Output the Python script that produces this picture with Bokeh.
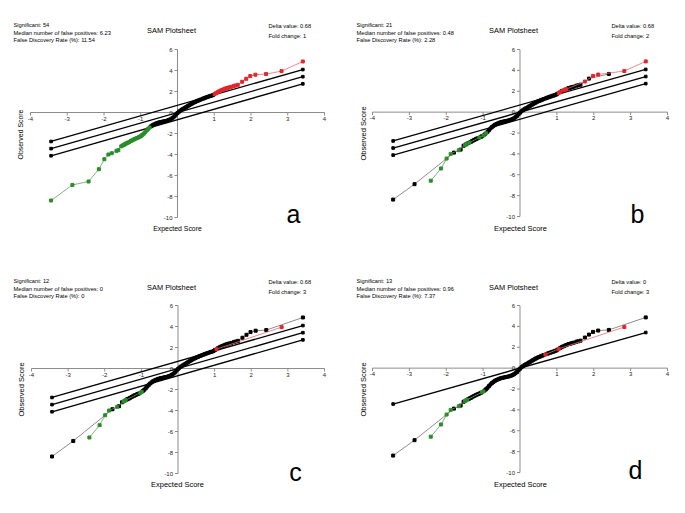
from bokeh.plotting import figure
from bokeh.layouts import gridplot
from bokeh.models import Range1d, Label, ColumnDataSource
from bokeh.core.properties import value
from bokeh.embed import file_html
from bokeh.resources import INLINE

# ---------------- data ----------------
expected = [-3.44, -2.86, -2.42, -2.14, -1.99, -1.88, -1.79, -1.66, -1.61,
            -1.53, -1.49, -1.46, -1.43, -1.40, -1.37, -1.34, -1.31, -1.27, -1.24,
            -1.20, -1.17, -1.13, -1.10, -1.06, -1.03, -0.99, -0.96, -0.92, -0.88,
            -0.84, -0.80, -0.76,
            -0.72, -0.68, -0.64, -0.60, -0.56, -0.52, -0.48, -0.44, -0.40, -0.36,
            -0.32, -0.28, -0.24, -0.20, -0.16, -0.12, -0.08, -0.04, 0.00, 0.04,
            0.08, 0.12, 0.16, 0.20, 0.24, 0.28, 0.32, 0.36, 0.40, 0.44, 0.48,
            0.52, 0.56, 0.60, 0.64, 0.69, 0.73, 0.77, 0.81, 0.85, 0.89, 0.93, 0.97,
            1.01, 1.05, 1.09, 1.13, 1.17, 1.21, 1.25, 1.29, 1.33, 1.37, 1.41, 1.46,
            1.53, 1.58, 1.64, 1.76, 1.87, 1.98, 2.12, 2.41, 2.83, 3.41]
observed = [-8.38, -6.90, -6.57, -5.40, -4.45, -4.00, -3.88, -3.65, -3.59,
            -3.22, -3.14, -3.08, -3.02, -2.96, -2.91, -2.86, -2.80, -2.72, -2.66,
            -2.59, -2.54, -2.48, -2.43, -2.37, -2.31, -2.23, -2.14, -2.02, -1.88,
            -1.72, -1.56, -1.43,
            -1.32, -1.22, -1.14, -1.08, -1.02, -0.97, -0.93, -0.90, -0.87, -0.84,
            -0.81, -0.77, -0.72, -0.66, -0.58, -0.48, -0.36, -0.20, -0.05, 0.08,
            0.18, 0.28, 0.36, 0.44, 0.53, 0.61, 0.70, 0.78, 0.86, 0.94, 1.01,
            1.07, 1.13, 1.19, 1.25, 1.31, 1.37, 1.42, 1.47, 1.52, 1.57, 1.61, 1.66,
            1.76, 1.84, 1.93, 2.01, 2.08, 2.14, 2.20, 2.26, 2.31, 2.35, 2.39, 2.44,
            2.53, 2.57, 2.63, 2.93, 3.21, 3.47, 3.60, 3.66, 3.94, 4.86]

# significant genes of each panel, given by expected score
up_a = [1.01, 1.05, 1.09, 1.13, 1.17, 1.21, 1.25, 1.29, 1.33, 1.37, 1.41, 1.46,
        1.53, 1.58, 1.64, 1.76, 1.87, 1.98, 2.12, 2.41, 2.83, 3.41]
down_a = [-3.44, -2.86, -2.42, -2.14, -1.99, -1.88, -1.79, -1.66, -1.61,
          -1.53, -1.49, -1.46, -1.43, -1.40, -1.37, -1.34, -1.31, -1.27, -1.24,
          -1.20, -1.17, -1.13, -1.10, -1.06, -1.03, -0.99, -0.96, -0.92, -0.88,
          -0.84, -0.80, -0.76]
up_b = [1.05, 1.09, 1.17, 1.21, 1.25, 1.76, 1.98, 2.12, 2.83, 3.41]
down_b = [-2.42, -2.14, -1.99, -1.88, -1.66, -1.49, -1.43, -1.37, -1.10, -0.99, -0.92]
up_c = [1.05, 2.83]
down_c = [-2.42, -2.14, -1.99, -1.88, -1.66, -1.49, -1.46, -1.43, -1.03, -0.99]
up_d = [0.69, 1.05, 2.83]
down_d = [-2.42, -2.14, -1.99, -1.88, -1.66, -1.49, -1.46, -1.43, -1.03, -0.99]

significant = [54, 21, 12, 13]
false_pos = ["6.23", "0.48", "0", "0.96"]
fdr = ["11.54", "2.28", "0", "7.37"]
delta = [0.68, 0.68, 0.68, 0.0]
delta_txt = ["0.68", "0.68", "0.68", "0"]
fold = [1, 2, 3, 3]
letters = ["a", "b", "c", "d"]
ups = [up_a, up_b, up_c, up_d]
downs = [down_a, down_b, down_c, down_d]

x_ticks = [-4, -3, -2, -1, 0, 1, 2, 3, 4]
x_tick_labels = ["-4", "-3", "-2", "-1", "", "1", "2", "3", "4"]
y_ticks = [6, 4, 2, 0, -2, -4, -6, -8, -10]
y_tick_labels = ["6", "4", "2", "0", "-2", "-4", "-6", "-8", "-10"]

# ---------------- layout ----------------
FONT = "Liberation Sans"
RED = "#e3262c"
GREEN = "#2b8c2b"
AXIS = "#8c8c8c"
SMALL = "5.7px"

# figure size, where the axis box sits (pixels from each edge), text positions
layouts = [
    dict(W=342, H=256, l=30, r=18, t=49, b=39, info_x=13, info_y=24, title=(171, 30),
         dv=(268, 25), xl=(177, 228), yl=(20, 134), let=(293, 213), ysz="6.9px"),
    dict(W=343, H=256, l=30, r=18, t=49, b=40, info_x=14, info_y=24, title=(171, 30),
         dv=(269, 25), xl=(178, 228), yl=(21, 133), let=(295, 213), ysz="7.5px"),
    dict(W=342, H=257, l=31, r=18, t=49, b=40, info_x=13, info_y=24, title=(171, 31),
         dv=(268, 25), xl=(177, 228), yl=(21, 133), let=(295, 215), ysz="7.5px"),
    dict(W=343, H=257, l=30, r=18, t=49, b=41, info_x=14, info_y=24, title=(171, 31),
         dv=(269, 25), xl=(178, 228), yl=(21, 133), let=(293, 213), ysz="7.5px"),
]


def put(p, L, fx, fy, text, size, align="left", angle=0.0, color="black"):
    p.add_layout(Label(x=fx, y=L["H"] - fy, x_units="screen", y_units="screen",
                       text=text, text_align=align, text_baseline="middle",
                       text_font=FONT, text_font_size=size, text_color=color, angle=angle))


def make_panel(i):
    L = layouts[i]
    x0, x1 = min(x_ticks), max(x_ticks)
    y0, y1 = min(y_ticks), max(y_ticks)
    sx = (L["W"] - L["l"] - L["r"]) / (x1 - x0)
    sy = (L["H"] - L["t"] - L["b"]) / (y1 - y0)
    xr = Range1d(x0 - L["l"] / sx, x1 + L["r"] / sx)
    yr = Range1d(y0 - L["b"] / sy, y1 + L["t"] / sy)
    p = figure(width=L["W"], height=L["H"], x_range=xr, y_range=yr,
               output_backend="svg", toolbar_location=None,
               x_axis_location=None, y_axis_location=None,
               min_border_left=0, min_border_right=0, min_border_top=0, min_border_bottom=0)
    p.outline_line_color = None
    p.grid.visible = False
    p.background_fill_color = "white"
    p.border_fill_color = "white"

    # axes crossing at the origin
    tk = 3.0
    p.segment(x0=[x0, 0], y0=[0, y0], x1=[x1, 0], y1=[0, y1], line_color=AXIS, line_width=1)
    p.segment(x0=x_ticks, y0=[0] * len(x_ticks), x1=x_ticks, y1=[-tk / sy] * len(x_ticks),
              line_color=AXIS, line_width=1)
    p.segment(x0=[0] * len(y_ticks), y0=y_ticks, x1=[-tk / sx] * len(y_ticks), y1=y_ticks,
              line_color=AXIS, line_width=1)
    p.text(x=x_ticks, y=[0] * len(x_ticks), text=x_tick_labels, text_align="center",
           text_baseline="top", y_offset=4, text_font=value(FONT), text_font_size="6px",
           text_color="#222222")
    p.text(x=[0] * len(y_ticks), y=y_ticks, text=y_tick_labels, text_align="right",
           text_baseline="middle", x_offset=-5, text_font=value(FONT), text_font_size="6px",
           text_color="#222222")

    # delta lines
    xmin, xmax = min(expected), max(expected)
    offs = [delta[i], 0.0, -delta[i]] if delta[i] > 0 else [0.0]
    for d in offs:
        src = ColumnDataSource(dict(x=[xmin, xmax], y=[xmin + d, xmax + d]))
        p.line("x", "y", source=src, line_color="black", line_width=1.3)
        p.scatter("x", "y", source=src, marker="square", size=2.6, color="black")

    up, down = ups[i], downs[i]
    groups = {"k": ([], []), "g": ([], []), "r": ([], [])}
    for x, y in zip(expected, observed):
        key = "r" if x in up else ("g" if x in down else "k")
        groups[key][0].append(x)
        groups[key][1].append(y)
    style = {"k": ("black", "#707070"), "g": (GREEN, "#5ca55c"), "r": (RED, "#ea6a6e")}
    for key in ("k", "g", "r"):
        xs, ys = groups[key]
        if not xs:
            continue
        mc, lc = style[key]
        src = ColumnDataSource(dict(x=xs, y=ys))
        p.line("x", "y", source=src, line_color=lc, line_width=0.8)
        p.scatter("x", "y", source=src, marker="square", size=3.0, color=mc)

    # texts
    ix, iy = L["info_x"], L["info_y"]
    put(p, L, ix, iy, f"Significant: {significant[i]}", SMALL)
    put(p, L, ix, iy + 8, f"Median number of false positives: {false_pos[i]}", SMALL)
    put(p, L, ix, iy + 15.5, f"False Discovery Rate (%): {fdr[i]}", SMALL)
    put(p, L, L["title"][0], L["title"][1], "SAM Plotsheet", "7.4px", align="center")
    put(p, L, L["dv"][0], L["dv"][1], f"Delta value: {delta_txt[i]}", SMALL)
    put(p, L, L["dv"][0], L["dv"][1] + 10, f"Fold change: {fold[i]}", SMALL)
    put(p, L, L["xl"][0], L["xl"][1], "Expected Score", L["ysz"], align="center")
    put(p, L, L["yl"][0], L["yl"][1], "Observed Score", L["ysz"], align="center", angle=1.5708)
    put(p, L, L["let"][0], L["let"][1], letters[i], "25px", align="center")
    return p


panels = [make_panel(i) for i in range(4)]
grid = gridplot([[panels[0], panels[1]], [panels[2], panels[3]]], toolbar_location=None)

open("out.html", "w").write(file_html(grid, INLINE))
